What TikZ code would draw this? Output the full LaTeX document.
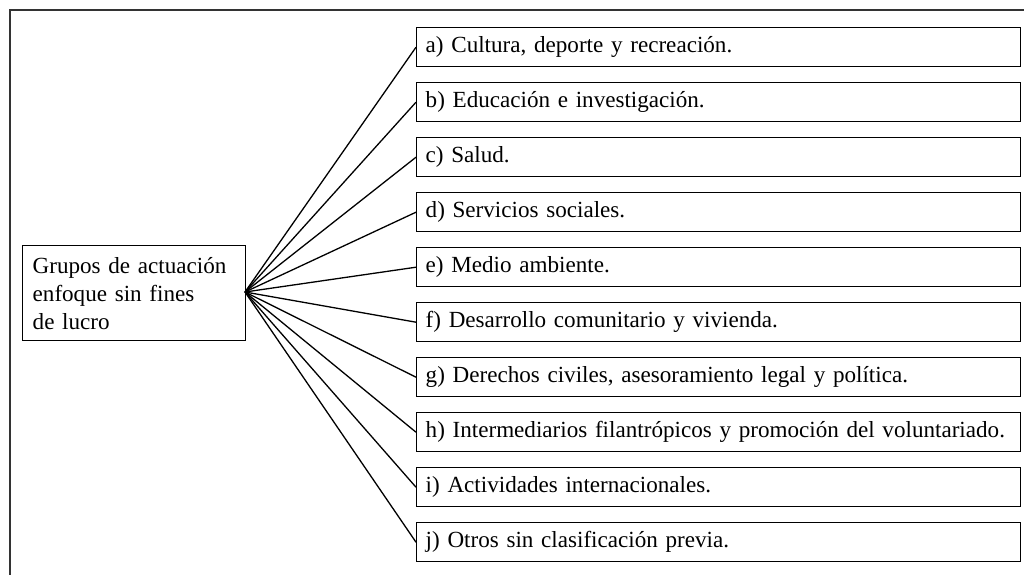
\documentclass[tikz,border=0pt]{standalone}
\usepackage{fontspec}
\setmainfont{Liberation Serif}
\begin{document}
\begin{tikzpicture}[x=1pt, y=-1pt, font=\fontsize{23.1}{28}\selectfont]
				\tikzstyle{Item} = [rectangle, draw, line width=1.4pt, anchor=north west, minimum height=39, text width=586, inner xsep=9, inner ysep=0, align=left]
				\tikzstyle{Group} = [rectangle, draw, line width=1.4pt, anchor=north west, minimum height=95, text width=203, inner xsep=10, align=left]
				\useasboundingbox (0,0) rectangle (1024,575);
				\draw [line width=1.6pt, black!80] (1024,10) -- (10,10) -- (10,575);
				\node (G) at (22,245) [Group] {Grupos de actuación\\enfoque sin fines\\de lucro};
				\coordinate (F) at (245,292);
				\node (A) at (416,27) [Item] {a) Cultura, deporte y recreación.};
				\node (B) at (416,82) [Item] {b) Educación e investigación.};
				\node (C) at (416,137) [Item] {c) Salud.};
				\node (D) at (416,192) [Item] {d) Servicios sociales.};
				\node (E) at (416,247) [Item] {e) Medio ambiente.};
				\node (Fd) at (416,302) [Item] {f) Desarrollo comunitario y vivienda.};
				\node (Gd) at (416,357) [Item] {g) Derechos civiles, asesoramiento legal y política.};
				\node (H) at (416,412) [Item] {h) Intermediarios filantrópicos y promoción del voluntariado.};
				\node (I) at (416,467) [Item] {i) Actividades internacionales.};
				\node (J) at (416,522) [Item] {j) Otros sin clasificación previa.};
				\draw [-, line width=1.3pt] (F) to (A.west);
				\draw [-, line width=1.3pt] (F) to (B.west);
				\draw [-, line width=1.3pt] (F) to (C.west);
				\draw [-, line width=1.3pt] (F) to (D.west);
				\draw [-, line width=1.3pt] (F) to (E.west);
				\draw [-, line width=1.3pt] (F) to (Fd.west);
				\draw [-, line width=1.3pt] (F) to (Gd.west);
				\draw [-, line width=1.3pt] (F) to (H.west);
				\draw [-, line width=1.3pt] (F) to (I.west);
				\draw [-, line width=1.3pt] (F) to (J.west);
			\end{tikzpicture}
\end{document}
